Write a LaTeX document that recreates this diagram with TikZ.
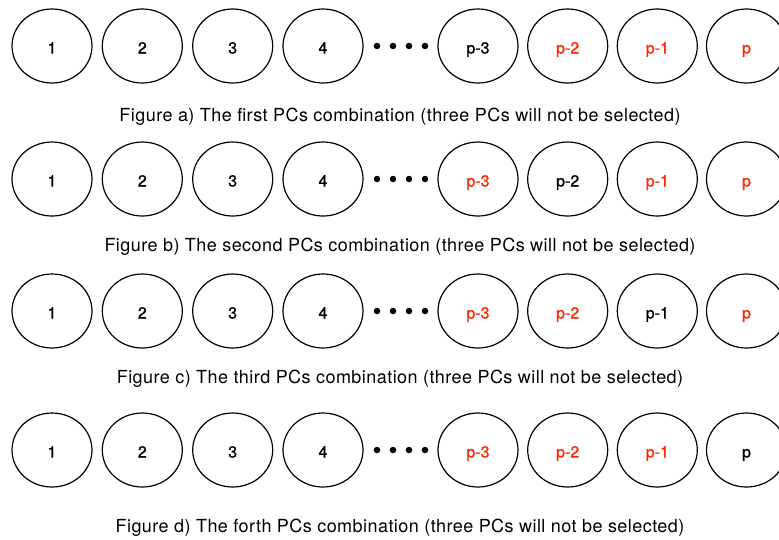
\documentclass[tikz,border=0pt]{standalone}
\usepackage{fontspec}
\setmainfont{TeX Gyre Heros}
\newfontfamily\pclabelfont[FakeBold=1.2]{TeX Gyre Heros}
\newfontfamily\captionfont[LetterSpace=2.5]{TeX Gyre Heros}
\usetikzlibrary{shapes.geometric}
\definecolor{pcred}{RGB}{255,38,0}
\tikzset{
  pc/.style={ellipse, draw=black, line width=1.2pt, minimum width=80pt, minimum height=74pt,
             inner sep=0pt, text height=15pt, text depth=0pt,
             font=\pclabelfont\fontsize{16pt}{18pt}\selectfont},
  gapdot/.style={circle, fill=black, inner sep=0pt, minimum size=6.5pt},
  caption/.style={anchor=base, inner sep=0pt, font=\captionfont\fontsize{18pt}{20pt}\selectfont}
}
\begin{document}
\begin{tikzpicture}[x=1pt, y=-1pt]
\useasboundingbox (0,0) rectangle (779,539);
% one row per combination: row index / centre y / label colours of p-3,p-2,p-1,p / caption baseline / caption
\foreach \r/\y/\ca/\cb/\cc/\cd/\cy/\txt in {
  1/46/black/pcred/pcred/pcred/121/{Figure a) The first PCs combination (three PCs will not be selected)},
  2/179/pcred/black/pcred/pcred/251/{Figure b) The second PCs combination (three PCs will not be selected)},
  3/311/pcred/pcred/black/pcred/383/{Figure c) The third PCs combination (three PCs will not be selected)},
  4/450/pcred/pcred/pcred/black/532/{Figure d) The forth PCs combination (three PCs will not be selected)}}{
  \node[pc] (r\r n1) at (52,\y) {1};
  \node[pc] (r\r n2) at (142.3,\y) {2};
  \node[pc] (r\r n3) at (232.7,\y) {3};
  \node[pc] (r\r n4) at (323,\y) {4};
  \foreach \k/\dx in {1/377,2/393,3/409,4/425}
    \node[gapdot] (r\r d\k) at (\dx,\y) {};
  \node[pc, text=\ca] (r\r m3) at (478,\y) {p-3};
  \node[pc, text=\cb] (r\r m2) at (567.7,\y) {p-2};
  \node[pc, text=\cc] (r\r m1) at (657.3,\y) {p-1};
  \node[pc, text=\cd] (r\r m0) at (746.5,\y) {p};
  \node[caption] (cap\r) at (400,\cy) {\txt};
}
\end{tikzpicture}
\end{document}
